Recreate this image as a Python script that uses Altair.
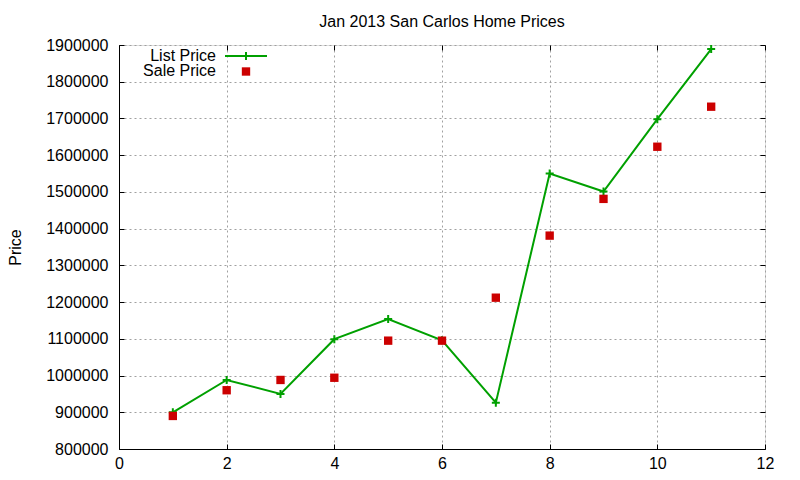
import altair as alt
import pandas as pd

# values
months = [1, 2, 3, 4, 5, 6, 7, 8, 9, 10, 11]
list_price = [900000, 988000, 950000, 1099000, 1154000, 1096000, 926000,
              1550000, 1501000, 1698000, 1889000]
sale_price = [890000, 960000, 988000, 994000, 1095000, 1095000, 1212000,
              1381000, 1481000, 1623000, 1732000]
x_ticks = [0, 2, 4, 6, 8, 10, 12]
y_ticks = list(range(800000, 1900001, 100000))

legend_labels = ["List Price", "Sale Price"]

W, H = 646, 404
FONT = "Liberation Sans"
GREEN = "#00a000"
RED = "#cc0000"
PLUS = "M-1,0H1M0,-1V1"

df = pd.DataFrame({"month": months, "list": list_price, "sale": sale_price})

xs = alt.Scale(domain=[0, 12], nice=False)
ys = alt.Scale(domain=[800000, 1900000], nice=False)


def tick_axis(orient, offset):
    # ticks only, pushed onto the opposite border so they point inwards
    vals = x_ticks if orient in ("top", "bottom") else y_ticks
    return alt.Axis(orient=orient, offset=offset, values=vals,
                    labels=False, grid=False, domain=False, ticks=True,
                    tickSize=5, tickColor="black", tickWidth=1, title=None)


line = alt.Chart(df).mark_line(color=GREEN, strokeWidth=2).encode(
    x=alt.X("month:Q", scale=xs,
            axis=alt.Axis(values=x_ticks, ticks=False, tickSize=0, labelPadding=6,
                          labelFlush=False,
                          grid=True, gridColor="#a0a0a0", gridDash=[2, 3],
                          domainColor="black", labelFontSize=16, labelFont=FONT,
                          labelColor="black", title=None)),
    y=alt.Y("list:Q", scale=ys,
            axis=alt.Axis(values=y_ticks, ticks=False, tickSize=0, labelPadding=11,
                          labelFlush=False,
                          grid=True, gridColor="#a0a0a0", gridDash=[2, 3],
                          domainColor="black", labelFontSize=16, labelFont=FONT,
                          labelColor="black", format="d",
                          title="Price", titleFont=FONT, titleFontSize=16,
                          titleFontWeight="normal", titleColor="black",
                          titleX=-104, titleY=H / 2, titleAlign="center",
                          titleBaseline="middle", titleAngle=270)),
)

plus = alt.Chart(df).mark_point(shape=PLUS, size=64, color=GREEN, strokeWidth=2,
                                filled=False, opacity=1).encode(
    x=alt.X("month:Q", scale=xs, axis=tick_axis("top", -H)),
    y=alt.Y("list:Q", scale=ys, axis=tick_axis("right", -W)),
)

squares = alt.Chart(df).mark_square(size=70, color=RED, opacity=1).encode(
    x=alt.X("month:Q", scale=xs, axis=tick_axis("bottom", -H)),
    y=alt.Y("sale:Q", scale=ys, axis=tick_axis("left", -W)),
)

# legend, gnuplot style: label on the left, sample on the right
leg = pd.DataFrame({"label": legend_labels, "row": [0, 1]})
leg_text = alt.Chart(leg).mark_text(align="right", baseline="alphabetic", font=FONT,
                                    fontSize=16, color="black").encode(
    x=alt.value(97),
    y=alt.Y("row:Q", scale=alt.Scale(domain=[0, 1], range=[16, 31]), axis=None),
    text="label:N",
)
leg_line = alt.Chart(leg.iloc[[0]]).mark_rule(color=GREEN, strokeWidth=2).encode(
    x=alt.value(106), x2=alt.value(148), y=alt.value(11),
)
leg_plus = alt.Chart(leg.iloc[[0]]).mark_point(shape=PLUS, size=64, color=GREEN,
                                               strokeWidth=2, filled=False, opacity=1).encode(
    x=alt.value(127), y=alt.value(11),
)
leg_square = alt.Chart(leg.iloc[[1]]).mark_square(size=70, color=RED, opacity=1).encode(
    x=alt.value(127), y=alt.value(26.5),
)

chart = (
    alt.layer(line, plus, squares, leg_text, leg_line, leg_plus, leg_square)
    .resolve_scale(y="independent")
    .resolve_axis(x="independent", y="independent")
    .properties(
        width=W, height=H,
        title=alt.TitleParams("Jan 2013 San Carlos Home Prices", font=FONT, fontSize=16,
                              fontWeight="normal", color="black", offset=7,
                              anchor="middle", frame="group"),
        autosize=alt.AutoSizeParams(type="none"),
        padding={"left": 111, "top": 37, "right": 20, "bottom": 30},
    )
    .configure_view(stroke="black", strokeWidth=1)
    .configure(background="white")
)

chart.save("out.html", embed_options={"renderer": "svg", "actions": False})
